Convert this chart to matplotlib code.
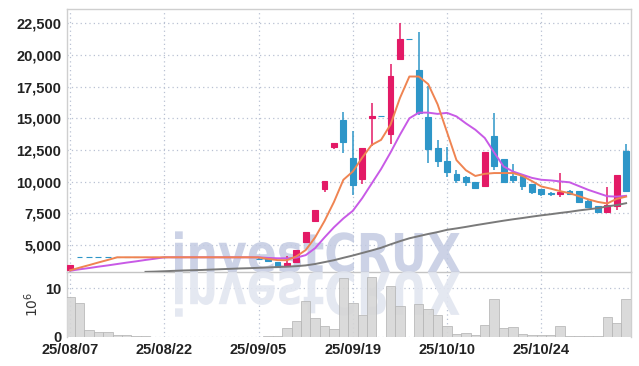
import matplotlib
matplotlib.use("Agg")
import numpy as np
import matplotlib.pyplot as plt
from matplotlib.textpath import TextPath
from matplotlib.patches import PathPatch
from matplotlib.transforms import Affine2D
from matplotlib.font_manager import FontProperties

# daily candles (KRW), 60 trading days from 25/08/07
opens = [3030,
         4030, 4030, 4030, 4030, 4030, 4030, 4030, 4030, 4030, 4030,
         4030, 4030, 4030, 4030, 4030, 4030, 4030, 4030, 4030,
         3900, 3950, 3630, 3360, 3630, 5260, 6900, 9430, 12700, 14900,
         11870, 10200, 15000, 15210, 13790, 19710, 21230, 18780, 15080, 12650,
         11600, 10620, 10330, 10010, 9620, 13580, 11810, 10410, 10410, 9800,
         9410, 9140, 9010, 9300, 9300, 8480, 8090, 7640, 8110, 12390]
highs = [3420,
         4030, 4030, 4030, 4030, 4030, 4030, 4030, 4030, 4030, 4030,
         4030, 4030, 4030, 4030, 4030, 4030, 4030, 4030, 4030,
         4020, 3950, 3630, 4130, 4600, 6050, 7770, 10070, 13070, 15500,
         14030, 12660, 16220, 15210, 19310, 22560, 21230, 21780, 17540, 13310,
         12740, 10940, 10460, 10010, 12360, 15430, 11810, 11390, 10410, 9800,
         9410, 9220, 10680, 9380, 9300, 8620, 8090, 9540, 10540, 13000]
lows = [3030,
        4030, 4030, 4030, 4030, 4030, 4030, 4030, 4030, 4030, 4030,
        4030, 4030, 4030, 4030, 4030, 4030, 4030, 4030, 4030,
        3790, 3730, 3280, 3230, 3600, 5260, 6800, 9170, 12600, 12260,
        8960, 9800, 12780, 15210, 13000, 19600, 21230, 15300, 11470, 11160,
        10330, 9890, 9670, 9410, 9540, 10940, 9890, 9890, 9360, 9040,
        8830, 8830, 8780, 9040, 8350, 7910, 7560, 7510, 7770, 9300]
closes = [3420,
          4030, 4030, 4030, 4030, 4030, 4030, 4030, 4030, 4030, 4030,
          4030, 4030, 4030, 4030, 4030, 4030, 4030, 4030, 4030,
          3890, 3730, 3280, 3550, 4600, 6050, 7770, 10070, 13070, 13100,
          9700, 12660, 15210, 15210, 18380, 21230, 21230, 15430, 12540, 11600,
          10800, 10150, 9940, 9490, 12360, 11200, 10010, 10100, 9620, 9220,
          9040, 9010, 9220, 9040, 8430, 7980, 7640, 8170, 10540, 9300]

# volume in millions of shares
volumes = [8.2, 7.1, 1.4, 1.0, 1.0, 0.35, 0.35, 0.15, 0.15, 0.0,
           0.1, 0.1, 0.0, 0.1, 0.0, 0.1, 0.1, 0.0, 0.0, 0.0,
           0.0, 0.15, 0.15, 1.8, 3.4, 7.5, 4.0, 2.2, 1.6, 12.1,
           7.0, 4.5, 12.3, 0.0, 10.6, 6.3, 0.0, 6.8, 5.75, 4.5,
           2.2, 0.6, 0.8, 0.35, 2.4, 7.8, 1.85, 2.05, 0.6, 0.35,
           0.35, 0.35, 2.2, 0.15, 0.3, 0.3, 0.3, 4.05, 2.9, 7.8]

# moving averages as drawn on the chart
ma_short = [3000, 3210, 3410, 3620, 3820, 4030, 4030, 4030, 4030, 4030,
            4030, 4030, 4030, 4030, 4030, 4030, 4030, 4030, 4030, 4030,
            4020, 3900, 3810, 3800, 4100, 4600, 5600, 6900, 8400, 10150,
            10800, 11900, 12900, 13300, 14500, 16600, 18300, 18300, 17700, 16100,
            13900, 11700, 10900, 10450, 10620, 10680, 10680, 10680, 10450, 10050,
            9620, 9450, 9250, 9090, 8850, 8600, 8400, 8280, 8640, 8820]
ma_mid = [2970, 3080, 3180, 3290, 3390, 3500, 3610, 3710, 3820, 3920,
          4030, 4030, 4030, 4030, 4030, 4030, 4030, 4030, 4030, 4030,
          4030, 3980, 3950, 3950, 4000, 4200, 4750, 5600, 6400, 7100,
          7700, 8700, 9850, 11000, 12300, 13700, 15000, 15450, 15450, 15350,
          15430, 15150, 14600, 14100, 13450, 12300, 11200, 10800, 10550, 10300,
          10150, 10100, 10020, 9950, 9650, 9350, 9100, 8850, 8820, 8880]
ma_long = [None, None, None, None, None, None, None, None, 2880, 2900,
           2930, 2960, 2990, 3010, 3030, 3060, 3090, 3120, 3150, 3170,
           3200, 3230, 3260, 3290, 3330, 3390, 3500, 3650, 3800, 3990,
           4170, 4370, 4570, 4780, 5050, 5300, 5530, 5700, 5870, 6020,
           6200, 6310, 6430, 6560, 6680, 6800, 6920, 7030, 7130, 7240,
           7340, 7430, 7530, 7620, 7730, 7820, 7910, 8050, 8150, 8300]

tick_labels = ['25/08/07', '25/08/22', '25/09/05', '25/09/19', '25/10/10', '25/10/24']
price_ticks = [5000, 7500, 10000, 12500, 15000, 17500, 20000, 22500]

up_color = '#e31a66'
down_color = '#2e96c8'
grid_color = '#b9c1d3'
spine_color = '#cfcfcf'
tick_font = ['Liberation Sans Narrow', 'Liberation Sans', 'DejaVu Sans']

W, H = 639, 366
fig = plt.figure(figsize=(W / 100, H / 100), dpi=100)
fig.patch.set_facecolor('white')

ax = fig.add_axes([67 / W, 1 - 272 / H, (631 - 67) / W, (272 - 9) / H])
axv = fig.add_axes([67 / W, 1 - 337 / H, (631 - 67) / W, (337 - 272) / H], sharex=ax)

x = np.arange(len(closes))
o = np.array(opens, float)
c = np.array(closes, float)
h = np.array(highs, float)
l = np.array(lows, float)
colors = [up_color if cc > oo else down_color for oo, cc in zip(o, c)]

# wicks and bodies
ax.vlines(x, l, h, colors=colors, linewidth=1.1, zorder=3)
ax.bar(x, np.abs(c - o), bottom=np.minimum(o, c), width=0.62,
       color=colors, edgecolor=colors, linewidth=0.8, zorder=4)

# moving averages
ax.plot(x, ma_long, color='#7a7a7a', linewidth=1.4, zorder=5)
ax.plot(x, ma_mid, color='#c85ae6', linewidth=1.4, zorder=5)
ax.plot(x, ma_short, color='#ef8452', linewidth=1.4, zorder=5)

# volume
axv.bar(x, volumes, width=1.0, color='#d6d6d6', edgecolor='#b5b5b5',
        linewidth=0.6, alpha=0.9, zorder=3)

ax.set_xlim(-0.33, 59.52)
ax.set_ylim(2869, 23630)
axv.set_ylim(0, 13.4)

ax.set_yticks(price_ticks)
ax.set_yticklabels([f'{v:,}' for v in price_ticks])
axv.set_yticks([0, 10])
axv.set_xticks(range(0, 60, 10))
axv.set_xticklabels(tick_labels)
ax.tick_params(axis='x', labelbottom=False, length=0)

for a in (ax, axv):
    a.set_facecolor('none')
    a.grid(True, linestyle=(0, (1, 2.5)), color=grid_color, linewidth=0.9)
    a.set_axisbelow(True)
    a.tick_params(length=0, pad=4, labelsize=10.5, colors='#222222')
    for lab in a.get_xticklabels() + a.get_yticklabels():
        lab.set_family(tick_font)
        lab.set_weight('bold')
    for s in a.spines.values():
        s.set_color(spine_color)
        s.set_linewidth(1.0)

axv.spines['bottom'].set_visible(False)
axv.spines['top'].set_visible(False)
ax.spines['bottom'].set_color('#c4c4c4')
axv.tick_params(axis='x', pad=4.5)
axv.set_ylabel(r'$10^6$', fontsize=10, color='#333333', labelpad=3)

# watermark with its reflection
tp = TextPath((0, 0), 'investCRUX', size=1,
              prop=FontProperties(family='DejaVu Sans', weight='bold'))
bb = tp.get_extents()
sx = (460 - 175) / bb.width
sy = 53.5
base = H - 272
wm = Affine2D().translate(-bb.x0, 0).scale(sx, sy).translate(175, base)
wm_ref = Affine2D().translate(-bb.x0, 0).scale(sx, -sy * 1.1).translate(175, base)
ax.add_artist(PathPatch(tp, transform=wm, facecolor='#c3cbe2', edgecolor='none',
                        alpha=0.85, zorder=1, clip_on=False))
axv.add_artist(PathPatch(tp, transform=wm_ref, facecolor='#e2e6f0', edgecolor='none',
                         alpha=0.9, zorder=1, clip_on=False))

fig.savefig('out.png', dpi=100)
